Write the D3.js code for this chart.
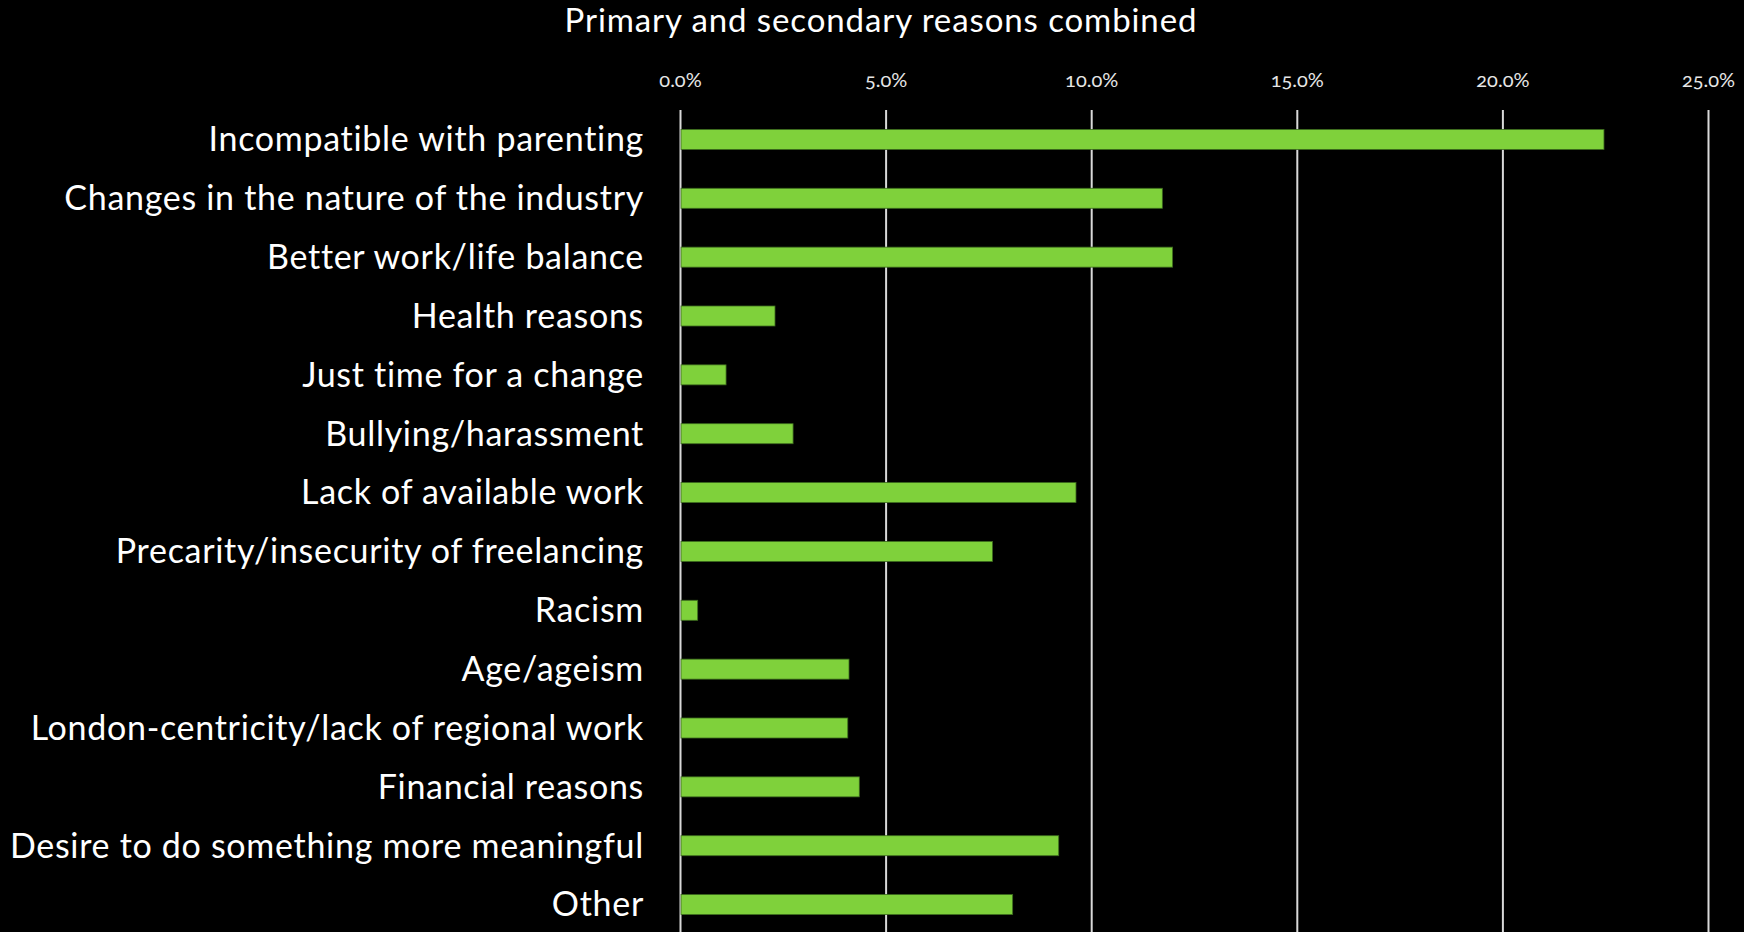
<!DOCTYPE html>
<html>
<head>
<meta charset="utf-8">
<script src="https://cdn.jsdelivr.net/npm/d3@7"></script>
<style>
  html, body { margin: 0; padding: 0; background: #000; }
  svg { display: block; }
  text { font-family: Lato, "Open Sans", sans-serif; }
</style>
</head>
<body>
<svg id="chart" width="1744" height="932"></svg>
<script>
// Reasons for leaving the industry (share of respondents, %)
const categories = [
  "Incompatible with parenting",
  "Changes in the nature of the industry",
  "Better work/life balance",
  "Health reasons",
  "Just time for a change",
  "Bullying/harassment",
  "Lack of available work",
  "Precarity/insecurity of freelancing",
  "Racism",
  "Age/ageism",
  "London-centricity/lack of regional work",
  "Financial reasons",
  "Desire to do something more meaningful",
  "Other"
];
const values = [22.47, 11.73, 11.98, 2.31, 1.12, 2.75, 9.63, 7.60, 0.43, 4.11, 4.08, 4.36, 9.21, 8.09];
const tickValues = [0, 5, 10, 15, 20, 25];
const title = "Primary and secondary reasons combined";

const svg = d3.select("#chart");
const W = 1744, H = 932;
const margin = { top: 110, right: 36, bottom: -2, left: 680 };
const plotW = W - margin.left - margin.right;
const plotH = H - margin.top - margin.bottom;

const x = d3.scaleLinear().domain([0, 25]).range([0, plotW]);
const y = d3.scaleBand().domain(categories).range([0, plotH]).paddingInner(0.66).paddingOuter(0.33);

const g = svg.append("g").attr("transform", `translate(${margin.left},${margin.top})`);

// Title
svg.append("text")
  .attr("x", 881).attr("y", 32)
  .attr("text-anchor", "middle")
  .attr("fill", "#ffffff")
  .attr("font-size", 33)
  .attr("letter-spacing", 0.9)
  .text(title);

// Value axis along the top, with vertical gridlines running down the plot
const xAxis = d3.axisTop(x)
  .tickValues(tickValues)
  .tickFormat(d => d.toFixed(1) + "%")
  .tickSize(-plotH)
  .tickPadding(23);

const ax = g.append("g").call(xAxis);
ax.select(".domain").remove();
ax.selectAll(".tick line").attr("stroke", "#d9d9d9").attr("stroke-width", 2);
ax.selectAll(".tick text")
  .attr("fill", "#e6e6e6")
  .attr("font-size", 20)
  .style("font-feature-settings", "'onum'");

// Bars
g.selectAll("rect.bar")
  .data(categories)
  .join("rect")
  .attr("class", "bar")
  .attr("x", x(0) + 1)
  .attr("y", d => y(d))
  .attr("width", (d, i) => x(values[i]) - x(0) - 1)
  .attr("height", y.bandwidth())
  .attr("fill", "#7fd13b")
  .attr("stroke", "#3c6a1e")
  .attr("stroke-width", 0.8);

// Category labels
g.selectAll("text.cat")
  .data(categories)
  .join("text")
  .attr("class", "cat")
  .attr("x", -36)
  .attr("y", d => y(d) + y.bandwidth() / 2)
  .attr("dy", "0.35em")
  .attr("text-anchor", "end")
  .attr("fill", "#ffffff")
  .attr("font-size", 34)
  .attr("letter-spacing", 0.7)
  .text(d => d);
</script>
</body>
</html>
